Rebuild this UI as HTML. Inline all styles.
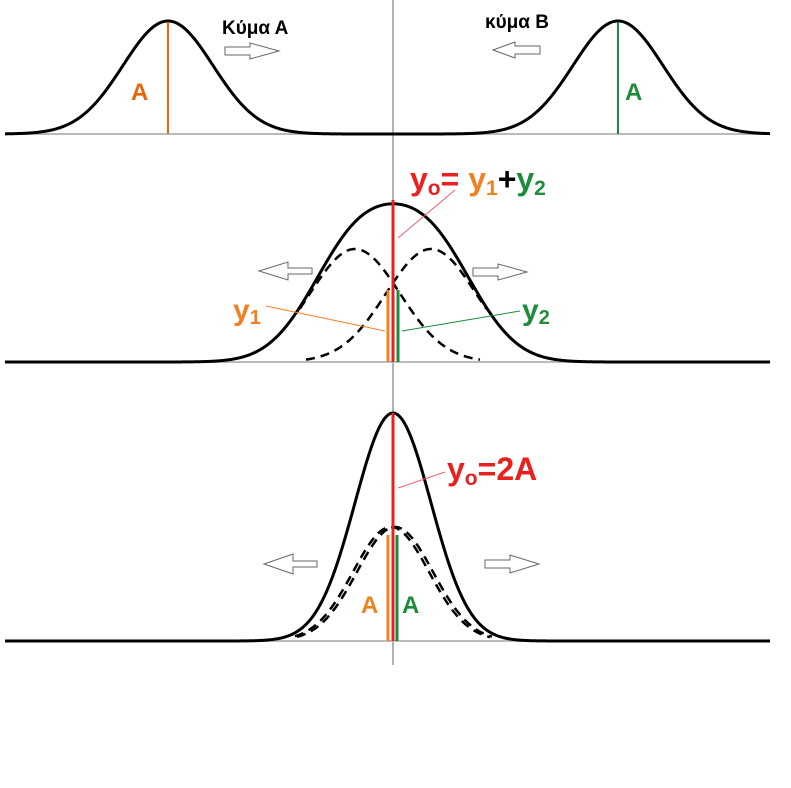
<!DOCTYPE html>
<html><head><meta charset="utf-8"><style>
html,body{margin:0;padding:0;background:#fff;}
svg{display:block;}
text{font-family:"Liberation Sans","DejaVu Sans",sans-serif;font-weight:bold;}
</style></head><body>
<svg id="s" width="791" height="788" viewBox="0 0 791 788" xmlns="http://www.w3.org/2000/svg">
<line x1="393" y1="0" x2="393" y2="665" stroke="#666" stroke-width="1"/>
<line x1="5" y1="134" x2="770" y2="134" stroke="#bbb" stroke-width="2"/>
<line x1="5" y1="362" x2="770" y2="362" stroke="#bbb" stroke-width="2"/>
<line x1="5" y1="641" x2="770" y2="641" stroke="#bbb" stroke-width="2"/>
<g id="curves"></g>
<line x1="168" y1="22" x2="168" y2="134" stroke="#e8650a" stroke-width="2"/>
<line x1="618" y1="22" x2="618" y2="134" stroke="#1e8c3a" stroke-width="2"/>
<text x="131" y="100" font-size="24" fill="#e8650a">A</text>
<text x="625" y="100" font-size="24" fill="#1e8c3a">A</text>
<text x="222" y="34" font-size="19" fill="#000">Κύμα Α</text>
<text x="485" y="28" font-size="19" fill="#000">κύμα Β</text>
<path d="M225,47 h25 v-4 l29,8 l-29,8 v-4 h-25 z" fill="#fff" stroke="#666"/>
<path d="M540,46 h-25 v-4 l-22,8 l22,8 v-4 h25 z" fill="#fff" stroke="#666"/>
<path d="M312,268 h-24 v-6 l-29,9 l29,9 v-6 h24 z" fill="#fff" stroke="#666"/>
<path d="M473,268 h25 v-4 l29,8 l-29,8 v-4 h-25 z" fill="#fff" stroke="#666"/>
<line x1="388" y1="290" x2="388" y2="362" stroke="#f08020" stroke-width="3"/>
<line x1="398" y1="290" x2="398" y2="362" stroke="#1e8c3a" stroke-width="3"/>
<line x1="393" y1="200" x2="393" y2="362" stroke="#e82020" stroke-width="3"/>
<line x1="266" y1="306" x2="385" y2="331" stroke="#f08020" stroke-width="1"/>
<line x1="402" y1="331" x2="520" y2="311" stroke="#1e8c3a" stroke-width="1"/>
<line x1="398" y1="238" x2="455" y2="190" stroke="#f06070" stroke-width="1"/>
<text x="410" y="190" font-size="32" fill="#e82020">y<tspan font-size="21" dy="5">o</tspan><tspan dy="-5">=</tspan><tspan fill="#f08020"> y</tspan><tspan fill="#f08020" font-size="21" dy="5">1</tspan><tspan fill="#000" dy="-5">+</tspan><tspan fill="#1e8c3a">y</tspan><tspan fill="#1e8c3a" font-size="21" dy="5">2</tspan></text>
<text x="233" y="320" font-size="30" fill="#f08020">y<tspan font-size="20" dy="4">1</tspan></text>
<text x="522" y="320" font-size="30" fill="#1e8c3a">y<tspan font-size="20" dy="4">2</tspan></text>
<path d="M317,561 h-24 v-7 l-29,10 l29,10 v-7 h24 z" fill="#fff" stroke="#666"/>
<path d="M485,560 h25 v-5 l29,9 l-29,9 v-5 h-25 z" fill="#fff" stroke="#666"/>
<line x1="388" y1="535" x2="388" y2="641" stroke="#f08020" stroke-width="3"/>
<line x1="397" y1="535" x2="397" y2="641" stroke="#1e8c3a" stroke-width="3"/>
<line x1="393" y1="413" x2="393" y2="641" stroke="#e82020" stroke-width="3"/>
<line x1="398" y1="488" x2="445" y2="472" stroke="#f06070" stroke-width="1"/>
<text x="447" y="480" font-size="32" fill="#e82020">y<tspan font-size="21" dy="5">o</tspan><tspan dy="-5">=2A</tspan></text>
<text x="361" y="613" font-size="24" fill="#f08020">A</text>
<text x="402" y="613" font-size="24" fill="#1e8c3a">A</text>
</svg>
<script>
function g(x,c,s){return Math.exp(-(x-c)*(x-c)/(2*s*s));}
function path(f,x0,x1){var d="";for(var x=x0;x<=x1;x+=1){d+=(x==x0?"M":"L")+x+","+f(x).toFixed(2);}return d;}
var G=document.getElementById("curves"),ns="http://www.w3.org/2000/svg";
function add(d,dash){var p=document.createElementNS(ns,"path");p.setAttribute("d",d);p.setAttribute("fill","none");p.setAttribute("stroke","#000");p.setAttribute("stroke-width",dash?"2.5":"3");if(dash)p.setAttribute("stroke-dasharray","9,6");G.appendChild(p);}
add(path(function(x){return 134-113*(g(x,168,45)+g(x,618,45));},5,770));
add(path(function(x){return 362-113*(g(x,355,45)+g(x,431,45));},5,770));
add(path(function(x){return 362-113*g(x,355,45);},300,480),1);
add(path(function(x){return 362-113*g(x,431,45);},306,486),1);
add(path(function(x){return 641-228*g(x,393,38);},5,770));
add(path(function(x){return 641-114*g(x,391,38);},295,490),1);
add(path(function(x){return 641-114*g(x,395,38);},297,492),1);
</script>
</body></html>
